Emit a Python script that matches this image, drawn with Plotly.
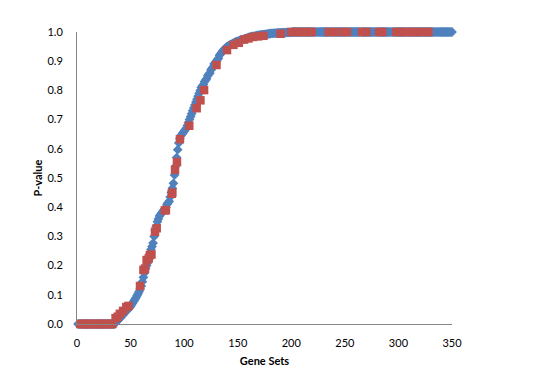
import plotly.graph_objects as go

# Series 1 (blue diamonds): gene set index 1..350 and sorted p-values
blue_x = list(range(1, 351))
blue_y = [
    0, 0, 0, 0, 0, 0, 0, 0, 0, 0,
    0, 0, 0, 0, 0, 0, 0, 0, 0, 0,
    0, 0, 0, 0, 0, 0, 0, 0, 0, 0,
    0, 0, 0, 0, 0, 0.005, 0.008, 0.012, 0.016, 0.02,
    0.024, 0.028, 0.032, 0.036, 0.04, 0.044, 0.048, 0.052, 0.056, 0.06,
    0.066, 0.072, 0.078, 0.084, 0.09, 0.097, 0.104, 0.111, 0.12, 0.13,
    0.145, 0.16, 0.175, 0.19, 0.2, 0.21, 0.225, 0.24, 0.255, 0.265,
    0.277, 0.3, 0.32, 0.335, 0.35, 0.36, 0.37, 0.375, 0.38, 0.385,
    0.39, 0.395, 0.4, 0.41, 0.415, 0.42, 0.435, 0.45, 0.465, 0.482,
    0.51, 0.54, 0.57, 0.597, 0.62, 0.635, 0.645, 0.65, 0.655, 0.66,
    0.665, 0.67, 0.68, 0.69, 0.7, 0.71, 0.72, 0.73, 0.74, 0.75,
    0.76, 0.77, 0.78, 0.79, 0.8, 0.81, 0.815, 0.82, 0.83, 0.835,
    0.84, 0.85, 0.855, 0.86, 0.87, 0.875, 0.88, 0.89, 0.895, 0.9,
    0.905, 0.91, 0.92, 0.925, 0.93, 0.935, 0.94, 0.943, 0.946, 0.95,
    0.952, 0.954, 0.956, 0.958, 0.96, 0.962, 0.964, 0.966, 0.967, 0.968,
    0.97, 0.971, 0.972, 0.974, 0.975, 0.976, 0.977, 0.978, 0.98, 0.981,
    0.982, 0.983, 0.984, 0.985, 0.985, 0.986, 0.987, 0.988, 0.988, 0.989,
    0.99, 0.99, 0.991, 0.991, 0.992, 0.992, 0.993, 0.993, 0.994, 0.994,
    0.995, 0.995, 0.995, 0.996, 0.996, 0.996, 0.997, 0.997, 0.997, 0.997,
    0.998, 0.998, 0.998, 0.998, 0.998, 0.999, 0.999, 0.999, 0.999, 0.999,
    1.0, 1.0, 1.0, 1.0, 1.0, 1.0, 1.0, 1.0, 1.0, 1.0,
    1.0, 1.0, 1.0, 1.0, 1.0, 1.0, 1.0, 1.0, 1.0, 1.0,
    1.0, 1.0, 1.0, 1.0, 1.0, 1.0, 1.0, 1.0, 1.0, 1.0,
    1.0, 1.0, 1.0, 1.0, 1.0, 1.0, 1.0, 1.0, 1.0, 1.0,
    1.0, 1.0, 1.0, 1.0, 1.0, 1.0, 1.0, 1.0, 1.0, 1.0,
    1.0, 1.0, 1.0, 1.0, 1.0, 1.0, 1.0, 1.0, 1.0, 1.0,
    1.0, 1.0, 1.0, 1.0, 1.0, 1.0, 1.0, 1.0, 1.0, 1.0,
    1.0, 1.0, 1.0, 1.0, 1.0, 1.0, 1.0, 1.0, 1.0, 1.0,
    1.0, 1.0, 1.0, 1.0, 1.0, 1.0, 1.0, 1.0, 1.0, 1.0,
    1.0, 1.0, 1.0, 1.0, 1.0, 1.0, 1.0, 1.0, 1.0, 1.0,
    1.0, 1.0, 1.0, 1.0, 1.0, 1.0, 1.0, 1.0, 1.0, 1.0,
    1.0, 1.0, 1.0, 1.0, 1.0, 1.0, 1.0, 1.0, 1.0, 1.0,
    1.0, 1.0, 1.0, 1.0, 1.0, 1.0, 1.0, 1.0, 1.0, 1.0,
    1.0, 1.0, 1.0, 1.0, 1.0, 1.0, 1.0, 1.0, 1.0, 1.0,
    1.0, 1.0, 1.0, 1.0, 1.0, 1.0, 1.0, 1.0, 1.0, 1.0,
]

# Series 2 (red squares)
red_x = [3, 5, 7, 9, 11, 13, 15, 17, 19, 21, 23, 25, 27, 29, 31, 33,
         36, 38, 40, 43, 46, 48,
         58.8, 62, 63.5, 65, 67, 68, 69.5, 72.8, 74.4, 82, 83, 88.4, 89,
         91.5, 93.3, 96.1, 104.8, 111.7, 115.2, 118.6, 130.2, 140, 146, 151,
         156, 160, 164, 169, 174, 190,
         200, 204, 208, 212, 216, 219, 235, 240, 248, 252, 266, 270,
         282, 285, 298, 302, 306, 310, 313, 317, 321, 325, 328]
red_y = [0, 0, 0, 0, 0, 0, 0, 0, 0, 0, 0, 0, 0, 0, 0, 0,
         0.02, 0.025, 0.035, 0.045, 0.058, 0.062,
         0.13, 0.185, 0.19, 0.219, 0.225, 0.236, 0.238, 0.316, 0.328, 0.389, 0.39, 0.446, 0.45,
         0.528, 0.555, 0.633, 0.679, 0.739, 0.766, 0.801, 0.887, 0.938, 0.956, 0.963,
         0.974, 0.978, 0.983, 0.985, 0.987, 0.994,
         1.0, 1.0, 1.0, 1.0, 1.0, 1.0, 1.0, 1.0, 1.0, 1.0, 1.0, 1.0,
         1.0, 1.0, 1.0, 1.0, 1.0, 1.0, 1.0, 1.0, 1.0, 1.0, 1.0]

x_ticks = [0, 50, 100, 150, 200, 250, 300, 350]
y_ticks = [0.0, 0.1, 0.2, 0.3, 0.4, 0.5, 0.6, 0.7, 0.8, 0.9, 1.0]

fig = go.Figure()
fig.add_trace(go.Scatter(
    x=blue_x, y=blue_y, mode="markers",
    marker=dict(symbol="diamond", size=7.5, color="#4F81BD", line=dict(width=0)),
    cliponaxis=False, showlegend=False,
))
fig.add_trace(go.Scatter(
    x=red_x, y=red_y, mode="markers",
    marker=dict(symbol="square", size=8.5, color="#C0504D", line=dict(width=0)),
    cliponaxis=False, showlegend=False,
))

font = dict(family="Lato, Carlito, Calibri, sans-serif", size=11, color="#000000")
fig.update_layout(
    width=543, height=389,
    margin=dict(l=69, r=99, t=24, b=73),
    paper_bgcolor="white", plot_bgcolor="white",
    font=font,
    xaxis=dict(
        range=[0, 350], tickvals=x_ticks, ticktext=[str(v) for v in x_ticks],
        showgrid=False, zeroline=False, showline=True, linecolor="#868686", linewidth=1,
        ticks="outside", ticklen=9, tickcolor="rgba(0,0,0,0)", tickfont=font,
        automargin=False,
        title=dict(text="<b>Gene Sets</b>", font=font, standoff=9),
    ),
    yaxis=dict(
        range=[0, 1.0], tickvals=y_ticks, ticktext=[f"{v:.1f}" for v in y_ticks],
        showgrid=False, zeroline=False, showline=True, linecolor="#868686", linewidth=1,
        ticks="outside", ticklen=11, tickcolor="rgba(0,0,0,0)", tickfont=font,
        automargin=False,
        title=dict(text="<b>P-value</b>", font=font, standoff=2),
    ),
)

fig.write_html("out.html")
